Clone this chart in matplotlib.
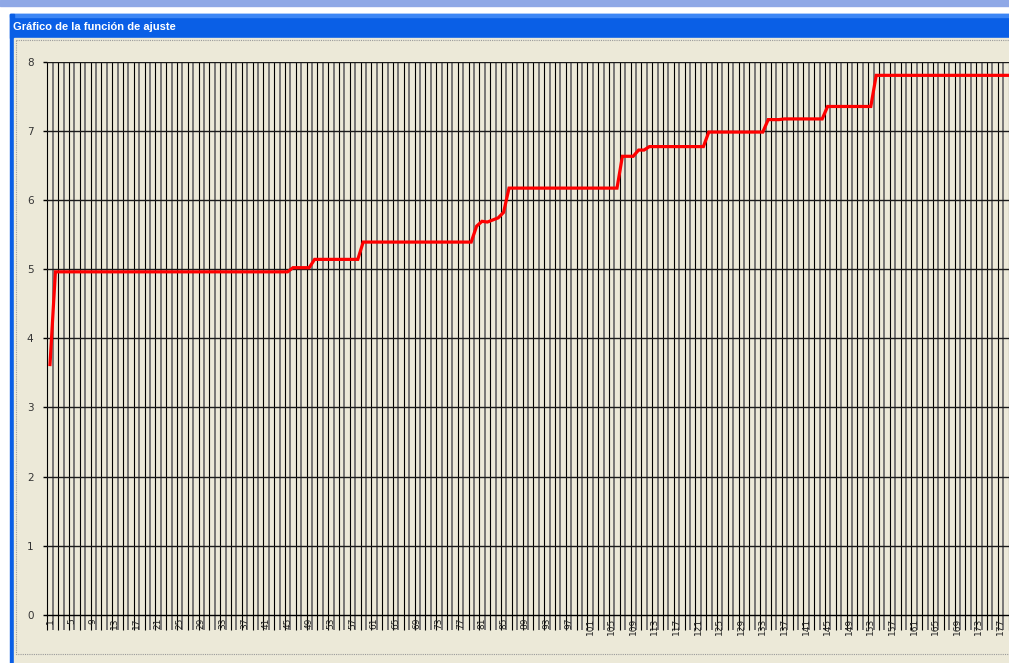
import numpy as np
import matplotlib.pyplot as plt
from matplotlib.patches import Rectangle

# mesetas de la funcion de ajuste (valor, cuantos puntos)
niveles = [3.62, 4.96, 5.02, 5.14, 5.39, 5.62, 5.69, 5.68, 5.71, 5.74,
           5.82, 6.17, 6.63, 6.72, 6.77, 6.98, 7.16, 7.17, 7.35, 7.80]
repeticiones = [1, 44, 4, 9, 21, 1, 1, 1, 1, 1,
                1, 21, 3, 2, 11, 11, 3, 8, 9, 26]
valores = np.repeat(niveles, repeticiones)
indices = np.arange(1, len(valores) + 1)

etiquetas_x = np.arange(1, 178, 4)
etiquetas_y = [0, 1, 2, 3, 4, 5, 6, 7, 8]

W, H = 1009, 663
BEIGE = "#ECE9D8"

fig = plt.figure(figsize=(W / 100, H / 100), dpi=100)
fig.patch.set_facecolor("white")

# "ventana" estilo XP dibujada en pixeles
bg = fig.add_axes([0, 0, 1, 1])
bg.set_xlim(0, W)
bg.set_ylim(H, 0)
bg.axis("off")
bg.add_patch(Rectangle((0, 0), W, 6, color="#8FA8E6"))
bg.add_patch(Rectangle((10, 14), W, 24, color="#0A5FE6"))
bg.add_patch(Rectangle((10, 14), W, 3, color="#3C86F5"))
bg.add_patch(Rectangle((10, 14), 4, H, color="#0A5FE6"))
bg.add_patch(Rectangle((14, 38), W, H, color=BEIGE))
bg.add_patch(Rectangle((16, 40), W + 10, 614, fill=False, ec="#9a9a9a",
                       lw=0.8, ls=(0, (1, 1))))
bg.text(13, 27.5, "Gráfico de la función de ajuste", color="white",
        fontsize=8, fontweight="bold", family="Liberation Sans", va="center")

# grafico
x0, x1 = 47.3, W
y_top, y_bot = 61.5, 615
paso = 5.4
ax = fig.add_axes([x0 / W, (H - y_bot) / H, (x1 - x0) / W, (y_bot - y_top) / H])
ax.set_facecolor(BEIGE)
ax.set_xlim(0.5, 0.5 + (x1 - x0) / paso)
ax.set_ylim(0, 8)

bordes = np.arange(0.5, 182, 1.0)
for k, b in enumerate(bordes):
    if k % 2 == 0:
        ax.vlines(b, -0.22, 8, color="black", lw=0.8, clip_on=False, zorder=1)
    else:
        ax.vlines(b, -0.22, 8, color="#6e6e6e", lw=1.3, clip_on=False, zorder=1)

for v in etiquetas_y[1:]:
    ax.axhline(v, color="#1a1a1a", lw=1.0, zorder=2)

ax.plot(indices, valores, color="#FF0000", lw=2.3, zorder=3,
        solid_joinstyle="miter")

for s in ["left", "right", "top"]:
    ax.spines[s].set_visible(False)
ax.spines["bottom"].set_color("black")
ax.spines["bottom"].set_linewidth(1.0)

ax.set_yticks(etiquetas_y)
ax.set_yticklabels([str(v) for v in etiquetas_y])
ax.tick_params(axis="y", length=3, width=1, color="black", pad=7,
               labelsize=7.5, labelcolor="#333333")
ax.set_xticks(etiquetas_x)
ax.set_xticklabels([str(v) for v in etiquetas_x], rotation=90)
ax.tick_params(axis="x", length=0, pad=2, labelsize=6.5, labelcolor="#222222")

fig.savefig("out.png", dpi=100, facecolor=fig.get_facecolor())
